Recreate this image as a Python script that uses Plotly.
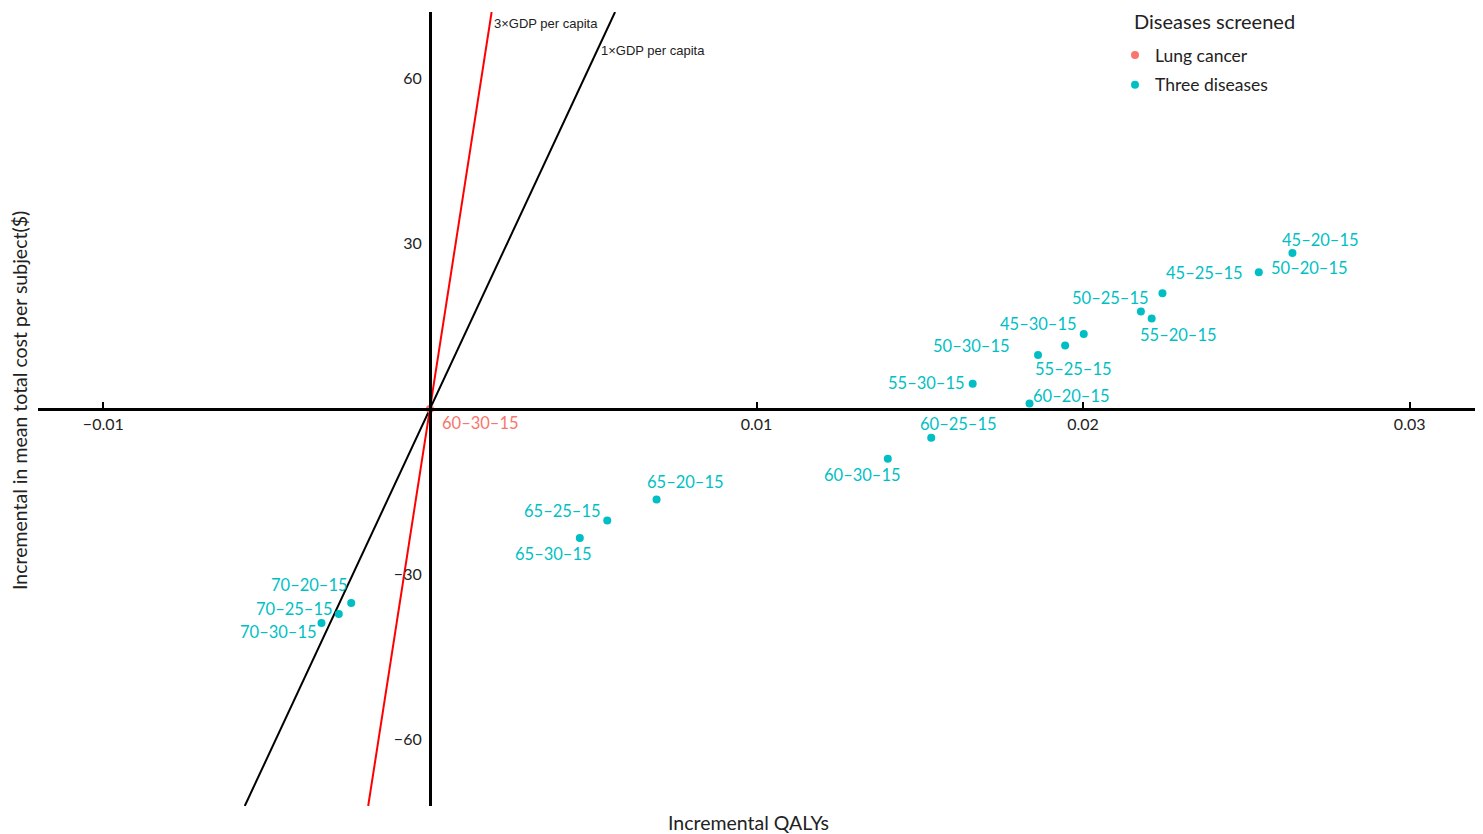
import plotly.graph_objects as go

# ---- data ----
three_labels = ["45–20–15", "50–20–15", "45–25–15", "50–25–15", "55–20–15", "45–30–15",
                "55–25–15", "50–30–15", "55–30–15", "60–20–15", "60–25–15", "60–30–15",
                "65–20–15", "65–25–15", "65–30–15", "70–20–15", "70–25–15", "70–30–15"]
three_qaly = [0.02641, 0.02538, 0.02243, 0.02177, 0.02210, 0.02002,
              0.01945, 0.01862, 0.01662, 0.01836, 0.01535, 0.01402,
              0.00694, 0.00543, 0.00459, -0.00241, -0.00279, -0.00332]
three_cost = [28.3, 24.8, 21.0, 17.7, 16.4, 13.6,
              11.5, 9.8, 4.6, 1.0, -5.2, -9.0,
              -16.4, -20.2, -23.4, -35.2, -37.2, -38.8]

lung_labels = ["60–30–15"]
lung_qaly = [0.0]
lung_cost = [0.0]

gdp_per_capita = 12700
wtp_multiples = [1, 3]
wtp_names = ["1×GDP per capita", "3×GDP per capita"]

x_ticks = [-0.01, 0.01, 0.02, 0.03]
y_ticks = [-60, -30, 30, 60]

# ---- label offsets (pixels) ----
three_dx = [28, 51, 42, -30, 27, -45, 8, -67, -46, 42, 27, -25, 29, -45, -26, -42, -44, -43]
three_dy = [13, 4, 20, 13, -16, 10, -23, 9, 1, 7, 14, -16, 17, 9, -16, 18, 5, -9]
lung_dx = [51]
lung_dy = [-14]

TEAL = "#00BFC4"
SALMON = "#F8766D"
FONT = "Lato"

fig = go.Figure()

line_colors = {1: "black", 3: "#FF0000"}
xr = [-0.012, 0.032]
yr = [-72, 72]
for m in wtp_multiples:
    s = m * gdp_per_capita
    xs = [yr[0] / s, yr[1] / s]
    fig.add_trace(go.Scatter(x=xs, y=[s * v for v in xs], mode="lines",
                             line=dict(color=line_colors[m], width=2),
                             showlegend=False, hoverinfo="skip"))

fig.add_trace(go.Scatter(x=lung_qaly, y=lung_cost, mode="markers", name="Lung cancer",
                         legendgroup="a", marker=dict(color=SALMON, size=8)))
fig.add_trace(go.Scatter(x=three_qaly, y=three_cost, mode="markers", name="Three diseases",
                         legendgroup="b", marker=dict(color=TEAL, size=8)))

ann = []
for lab, x, y, dx, dy in zip(three_labels, three_qaly, three_cost, three_dx, three_dy):
    ann.append(dict(x=x, y=y, xref="x", yref="y", text=lab, showarrow=False,
                    xshift=dx, yshift=dy, font=dict(family=FONT, size=16.5, color=TEAL)))
for lab, x, y, dx, dy in zip(lung_labels, lung_qaly, lung_cost, lung_dx, lung_dy):
    ann.append(dict(x=x, y=y, xref="x", yref="y", text=lab, showarrow=False,
                    xshift=dx, yshift=dy, font=dict(family=FONT, size=16.5, color=SALMON)))

# WTP line labels
for m, name in zip(wtp_multiples, wtp_names):
    s = m * gdp_per_capita
    ytxt = 70 if m == 3 else 65.1
    ann.append(dict(x=ytxt / s, y=ytxt, xref="x", yref="y", text=name, showarrow=False,
                    xanchor="left", yanchor="middle", xshift=2,
                    font=dict(family="Liberation Sans", size=13, color="#222")))

# legend title
ann.append(dict(x=0, y=1, xref="paper", yref="paper", xshift=1132 - 38, yshift=-9,
                text="Diseases screened", showarrow=False, xanchor="left", yanchor="middle",
                font=dict(family=FONT, size=20, color="#222")))

# axis titles
ann.append(dict(x=0.5, y=0, xref="paper", yref="paper", xshift=-8, yshift=-3,
                text="Incremental QALYs", showarrow=False, yanchor="top",
                font=dict(family=FONT, size=19.5, color="#222")))
ann.append(dict(x=0, y=0.5, xref="paper", yref="paper", xshift=-19, yshift=8,
                text="Incremental in mean total cost per subject($)", textangle=-90,
                showarrow=False, xanchor="center", font=dict(family=FONT, size=19.5, color="#222")))

# the page body adds an 8px offset, so the figure is 8px smaller and margins compensate
fig.update_layout(
    width=1475, height=826,
    margin=dict(l=30, r=8, t=4, b=28, autoexpand=False),
    plot_bgcolor="white", paper_bgcolor="white",
    annotations=ann,
    legend=dict(font=dict(family=FONT, size=17.5, color="#222"),
                x=(1115 - 38) / 1437, y=(776 - 7) / 794, xanchor="left", yanchor="top",
                bgcolor="rgba(0,0,0,0)", tracegroupgap=4),
    showlegend=True,
)
fig.update_xaxes(range=xr, tickvals=x_ticks, ticks="inside", ticklen=6, tickwidth=1.5,
                 tickcolor="black", showline=True, linecolor="black", linewidth=3,
                 anchor="free", position=0.5, showgrid=False, zeroline=False, automargin=False,
                 tickfont=dict(family=FONT, size=16, color="#222"))
fig.update_yaxes(range=yr, tickvals=y_ticks, ticks="", showline=True, linecolor="black",
                 linewidth=3, anchor="free", position=(0 - xr[0]) / (xr[1] - xr[0]),
                 showgrid=False, zeroline=False, automargin=False, ticklabelstandoff=4,
                 tickfont=dict(family=FONT, size=16, color="#222"))

fig.write_html("out.html")
